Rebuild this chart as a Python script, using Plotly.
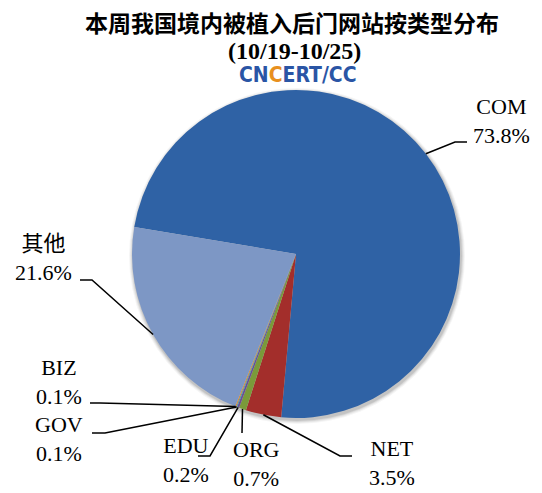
import math
import plotly.graph_objects as go

# ---- data ----
categories = ["COM", "NET", "ORG", "EDU", "GOV", "BIZ", "其他"]
values = [73.8, 3.5, 0.7, 0.2, 0.1, 0.1, 21.6]
colors = ["#2F62A5", "#A32E2B", "#7A9A3A", "#6B4F92", "#3B9AB2", "#E0892F", "#7D97C5"]
title_line1 = "本周我国境内被植入后门网站按类型分布"
title_line2 = "(10/19-10/25)"

# ---- layout geometry (page pixels) ----
OFF = 8  # default body margin of the html page
W, H = 542 - OFF, 493 - OFF
L, T, PW, PH = 132 - OFF, 90 - OFF, 328, 328
ROT = 279.5
CX, CY, R = L + PW / 2, T + PH / 2, PW / 2

# label centres and leader-line bends (page pixels)
label_pos = {
    "COM": (502, 121), "NET": (392, 463), "ORG": (256, 464), "EDU": (186, 460),
    "GOV": (59, 439), "BIZ": (59, 382), "其他": (43, 258),
}
leader_pts = {
    "COM": [(455, 142), (467, 142)],
    "NET": [(340, 456), (352, 456)],
    "ORG": [(242, 433)],
    "EDU": [(210, 456), (198, 456)],
    "GOV": [(105, 433), (92, 433)],
    "BIZ": [(100, 403), (90, 403)],
    "其他": [(92, 280), (80, 280)],
}


def px(x):
    return (x - L) / PW


def py(y):
    return 1 - (y - T) / PH


def fx(x):  # page pixel -> figure pixel
    return x - OFF


fig = go.Figure(go.Pie(
    labels=categories, values=values, sort=False, direction="clockwise",
    rotation=ROT - 360, marker=dict(colors=colors, line=dict(width=0)),
    textinfo="none", hoverinfo="label+percent", showlegend=False,
))

shapes = []
# soft drop shadow under the pie
for k, a in [(4, 0.04), (3, 0.05), (2, 0.07), (1, 0.09)]:
    sx, sy = CX + 1, CY + 2
    shapes.append(dict(type="circle", xref="paper", yref="paper", layer="below",
                       x0=px(sx - R - k), x1=px(sx + R + k),
                       y0=py(sy + R + k), y1=py(sy - R - k),
                       fillcolor="rgba(0,0,0,{})".format(a), line=dict(width=0)))

total = sum(values)
cum = 0.0
annotations = []
for cat, v in zip(categories, values):
    mid = math.radians(ROT + (cum + v / 2) / total * 360)
    cum += v
    ex, ey = CX + R * math.sin(mid), CY - R * math.cos(mid)
    pts = [(ex, ey)] + [(fx(x), fx(y)) for (x, y) in leader_pts[cat]]
    path = "M {} {}".format(px(pts[0][0]), py(pts[0][1]))
    for (x, y) in pts[1:]:
        path += " L {} {}".format(px(x), py(y))
    shapes.append(dict(type="path", xref="paper", yref="paper", path=path,
                       line=dict(color="black", width=1.5)))
    lx, ly = label_pos[cat]
    annotations.append(dict(
        x=px(fx(lx)), y=py(fx(ly)), xref="paper", yref="paper", showarrow=False,
        text="{}<br>{}%".format(cat, v), align="center",
        xanchor="center", yanchor="middle",
        font=dict(family="Liberation Serif, Noto Sans CJK SC", size=22, color="black"),
    ))

annotations.append(dict(
    x=px(fx(292)), y=py(fx(22)), xref="paper", yref="paper", showarrow=False,
    text="<b>" + title_line1 + "</b>", xanchor="center", yanchor="middle",
    font=dict(family="Noto Sans CJK SC", size=23, color="black"),
))
annotations.append(dict(
    x=px(fx(294)), y=py(fx(51)), xref="paper", yref="paper", showarrow=False,
    text="<b>" + title_line2 + "</b>", xanchor="center", yanchor="middle",
    font=dict(family="Liberation Serif", size=24, color="black"),
))
annotations.append(dict(
    x=px(fx(298)), y=py(fx(75)), xref="paper", yref="paper", showarrow=False,
    text='<b>CN<span style="color:#E8901E">C</span>ERT/CC</b>',
    xanchor="center", yanchor="middle",
    font=dict(family="Liberation Sans Narrow, Arial Narrow, DejaVu Sans Condensed",
              size=21, color="#2A55A5"),
))

fig.update_layout(
    width=W, height=H,
    margin=dict(l=L, r=W - L - PW, t=T, b=H - T - PH),
    paper_bgcolor="white", plot_bgcolor="white",
    shapes=shapes, annotations=annotations,
)

fig.write_html("out.html")
